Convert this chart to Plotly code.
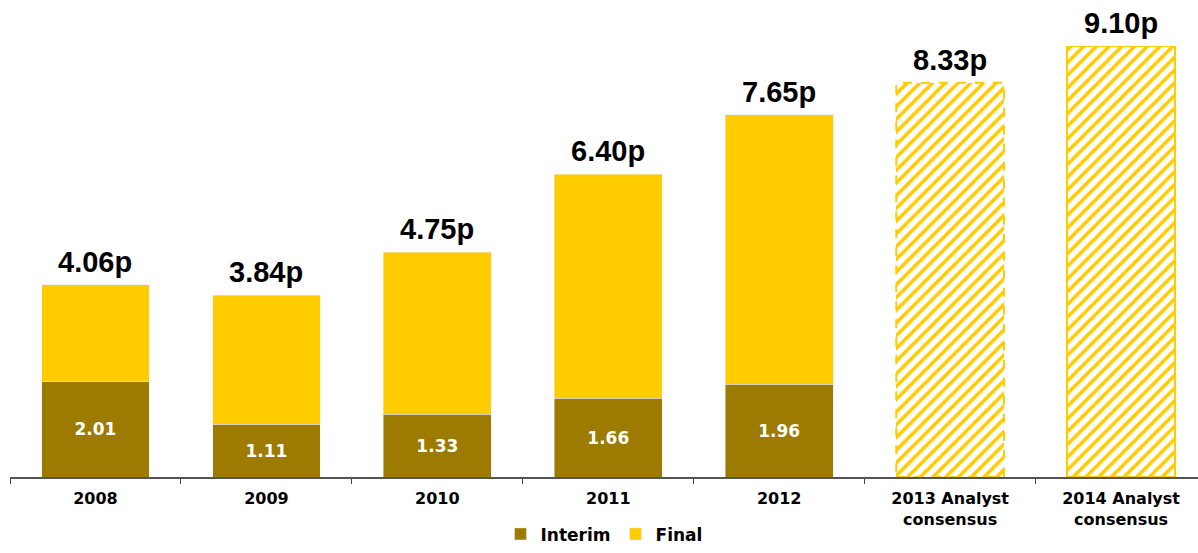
import plotly.graph_objects as go

# Dividend per share (pence)
categories = ["2008", "2009", "2010", "2011", "2012",
              "2013 Analyst<br>consensus", "2014 Analyst<br>consensus"]
interim = [2.01, 1.11, 1.33, 1.66, 1.96, None, None]
totals = [4.06, 3.84, 4.75, 6.40, 7.65, 8.33, 9.10]
forecast = [False, False, False, False, False, True, True]

final = [round(t - i, 2) if i is not None else None for t, i in zip(totals, interim)]
consensus = [t if f else None for t, f in zip(totals, forecast)]

BROWN = "#9C7B00"
YELLOW = "#FFCC00"
BAR_W = 0.63

fig = go.Figure()
fig.add_trace(go.Bar(
    x=categories, y=interim, name="Interim", marker_color=BROWN, width=BAR_W,
    text=[f"{v:.2f}" if v is not None else "" for v in interim],
    textposition="inside", insidetextanchor="middle",
    textfont=dict(family="DejaVu Sans", size=17, color="white", weight="bold"),
    hoverinfo="skip",
))
fig.add_trace(go.Bar(
    x=categories, y=final, name="Final", marker_color=YELLOW, width=BAR_W,
    hoverinfo="skip",
))
fig.add_trace(go.Bar(
    x=categories, y=consensus, name="Consensus", showlegend=False, width=BAR_W,
    marker=dict(color="white",
                pattern=dict(shape="/", fgcolor=YELLOW, bgcolor="white",
                             size=9, solidity=0.4, fillmode="replace"),
                line=dict(color=YELLOW, width=[0, 0, 0, 0, 0, 0, 1.5])),
    hoverinfo="skip",
))

# Dashed outline around the first consensus bar
first_fc = forecast.index(True)
fig.add_shape(type="rect", xref="x", yref="y",
              x0=first_fc - BAR_W / 2, x1=first_fc + BAR_W / 2,
              y0=0, y1=totals[first_fc],
              line=dict(color=YELLOW, width=2, dash="dash"),
              fillcolor="rgba(0,0,0,0)", layer="above")

# Total dividend labels above each bar
for idx, t in enumerate(totals):
    fig.add_annotation(x=idx, y=t, xref="x", yref="y", text=f"{t:.2f}p",
                       showarrow=False, yanchor="bottom", yshift=5,
                       font=dict(family="Liberation Sans", size=29,
                                 color="black", weight="bold"))

fig.update_layout(
    barmode="stack",
    width=1198, height=553,
    margin=dict(l=10, r=0, t=0, b=76, autoexpand=False),
    paper_bgcolor="white", plot_bgcolor="white",
    bargap=0.37,
    showlegend=True,
    legend=dict(orientation="h", x=0.5, xanchor="center", y=-0.158, yanchor="bottom",
                font=dict(family="DejaVu Sans", size=17, color="black", weight="bold"),
                itemwidth=30, traceorder="normal"),
    xaxis=dict(range=[-0.5, 6.45], tickson="boundaries", ticks="outside",
               ticklen=5, tickcolor="#444", showline=True, linecolor="#555",
               linewidth=1.5, ticklabelstandoff=6, automargin=False,
               tickfont=dict(family="DejaVu Sans", size=16, color="black",
                             weight="bold"),
               fixedrange=True),
    yaxis=dict(range=[0, 10.08], visible=False, showgrid=False, zeroline=False),
)

fig.write_html("out.html")
